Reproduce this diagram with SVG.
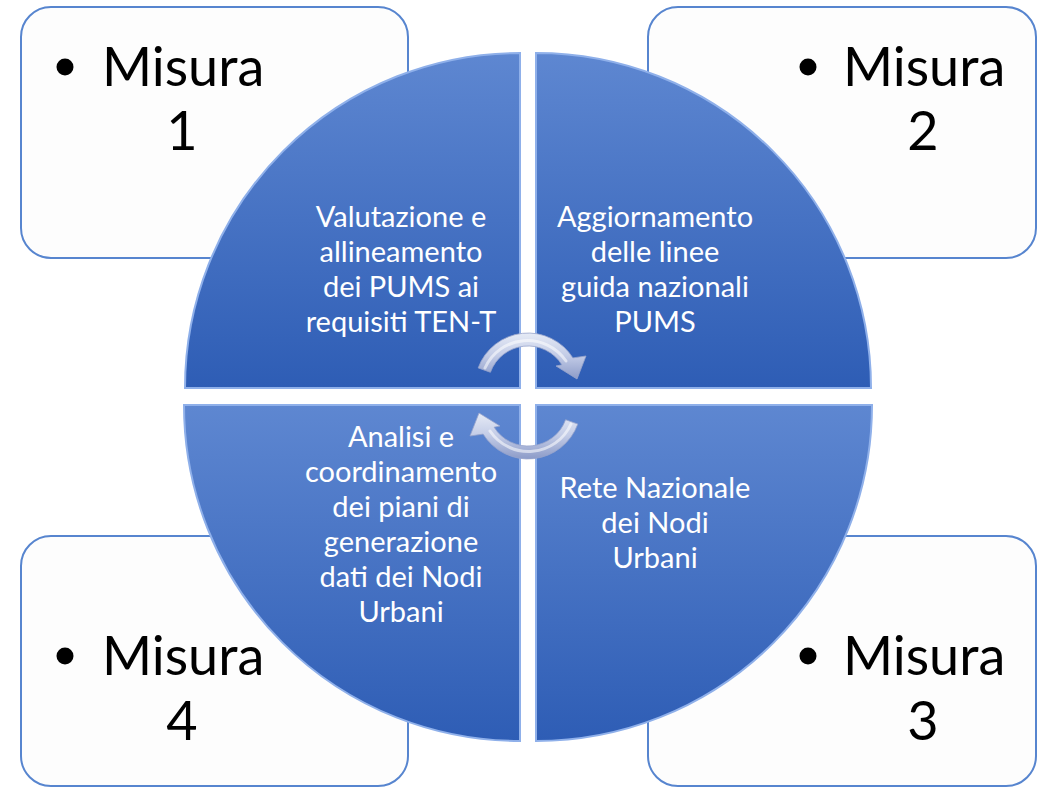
<svg xmlns="http://www.w3.org/2000/svg" width="1046" height="787" viewBox="0 0 1046 787">
  <defs>
    <linearGradient id="qfill" x1="0" y1="0" x2="0" y2="1">
      <stop offset="0" stop-color="#5E87D1"/>
      <stop offset="1" stop-color="#2E5DB5"/>
    </linearGradient>
    <linearGradient id="afill" x1="0" y1="0" x2="0" y2="1">
      <stop offset="0" stop-color="#E6EBF6"/>
      <stop offset="0.5" stop-color="#C2CBE6"/>
      <stop offset="1" stop-color="#8C9BC8"/>
    </linearGradient>
    <linearGradient id="afill2" x1="0" y1="1" x2="0" y2="0">
      <stop offset="0" stop-color="#E6EBF6"/>
      <stop offset="0.5" stop-color="#C2CBE6"/>
      <stop offset="1" stop-color="#8C9BC8"/>
    </linearGradient>
  </defs>
  <style>
    .box { fill: #FDFDFD; stroke: #5785CF; stroke-width: 2; }
    .mis { font-family: Lato, "Liberation Sans", sans-serif; font-size: 54px; fill: #000; }
    .quad { fill: url(#qfill); stroke: #8FB0EA; stroke-width: 2; }
    .qt { font-family: Lato, "Liberation Sans", sans-serif; font-size: 29px; fill: #FFFFFF; text-anchor: middle; }
    .arrow { stroke: #98A4CB; stroke-width: 0.8; }
    .shine { fill: none; stroke: #FFFFFF; stroke-opacity: 0.55; stroke-width: 3; stroke-linecap: round; }
  </style>
  <rect width="1046" height="787" fill="#FFFFFF"/>

  <g id="box1">
    <rect class="box" x="21" y="7" width="387" height="251" rx="30"/>
    <circle cx="65" cy="67" r="8.5" fill="#000"/>
    <text class="mis" x="102" y="86">Misura</text>
    <text class="mis" x="182" y="150" text-anchor="middle">1</text>
  </g>
  <g id="box2">
    <rect class="box" x="648" y="7" width="388" height="251" rx="30"/>
    <circle cx="808" cy="67" r="8.5" fill="#000"/>
    <text class="mis" x="843" y="86">Misura</text>
    <text class="mis" x="923" y="150" text-anchor="middle">2</text>
  </g>
  <g id="box3">
    <rect class="box" x="648" y="536" width="388" height="250" rx="30"/>
    <circle cx="808" cy="656" r="8.5" fill="#000"/>
    <text class="mis" x="843" y="675">Misura</text>
    <text class="mis" x="923" y="740" text-anchor="middle">3</text>
  </g>
  <g id="box4">
    <rect class="box" x="21" y="536" width="387" height="250" rx="30"/>
    <circle cx="65" cy="656" r="8.5" fill="#000"/>
    <text class="mis" x="102" y="675">Misura</text>
    <text class="mis" x="182" y="740" text-anchor="middle">4</text>
  </g>

  <g id="quad1">
    <path class="quad" d="M 520 388 L 185 388 A 335 335 0 0 1 520 53 Z"/>
    <text class="qt" x="401" y="227">Valutazione e</text>
    <text class="qt" x="401" y="262">allineamento</text>
    <text class="qt" x="401" y="297">dei PUMS ai</text>
    <text class="qt" x="401" y="332">requisiti TEN-T</text>
  </g>
  <g id="quad2">
    <path class="quad" d="M 536 388 L 536 53 A 335 335 0 0 1 871 388 Z"/>
    <text class="qt" x="655" y="227">Aggiornamento</text>
    <text class="qt" x="655" y="262">delle linee</text>
    <text class="qt" x="655" y="297">guida nazionali</text>
    <text class="qt" x="655" y="332">PUMS</text>
  </g>
  <g id="quad3">
    <path class="quad" d="M 536 405 L 872 405 A 336 336 0 0 1 536 741 Z"/>
    <text class="qt" x="655" y="498">Rete Nazionale</text>
    <text class="qt" x="655" y="533">dei Nodi</text>
    <text class="qt" x="655" y="568">Urbani</text>
  </g>
  <g id="quad4">
    <path class="quad" d="M 520 405 L 520 741 A 336 336 0 0 1 184 405 Z"/>
    <text class="qt" x="401" y="447">Analisi e</text>
    <text class="qt" x="401" y="482">coordinamento</text>
    <text class="qt" x="401" y="517">dei piani di</text>
    <text class="qt" x="401" y="552">generazione</text>
    <text class="qt" x="401" y="587">dati dei Nodi</text>
    <text class="qt" x="401" y="622">Urbani</text>
  </g>

  <g id="connectors">
    <g id="arrowTop">
      <path class="arrow" fill="url(#afill)" d="M 478.2 367.9 A 53 53 0 0 1 572.9 357.9 L 586 356 L 577 379 L 556 366 L 561.9 364.8 A 40 40 0 0 0 490.4 372.3 Z"/>
      <path class="shine" d="M 485 368 A 46.5 46.5 0 0 1 566 361"/>
    </g>
    <g id="arrowBottom" transform="rotate(180 528 396)">
      <path class="arrow" fill="url(#afill2)" d="M 478.2 367.9 A 53 53 0 0 1 572.9 357.9 L 586 356 L 577 379 L 556 366 L 561.9 364.8 A 40 40 0 0 0 490.4 372.3 Z"/>
      <path class="shine" d="M 485 368 A 46.5 46.5 0 0 1 566 361"/>
    </g>
  </g>
</svg>
